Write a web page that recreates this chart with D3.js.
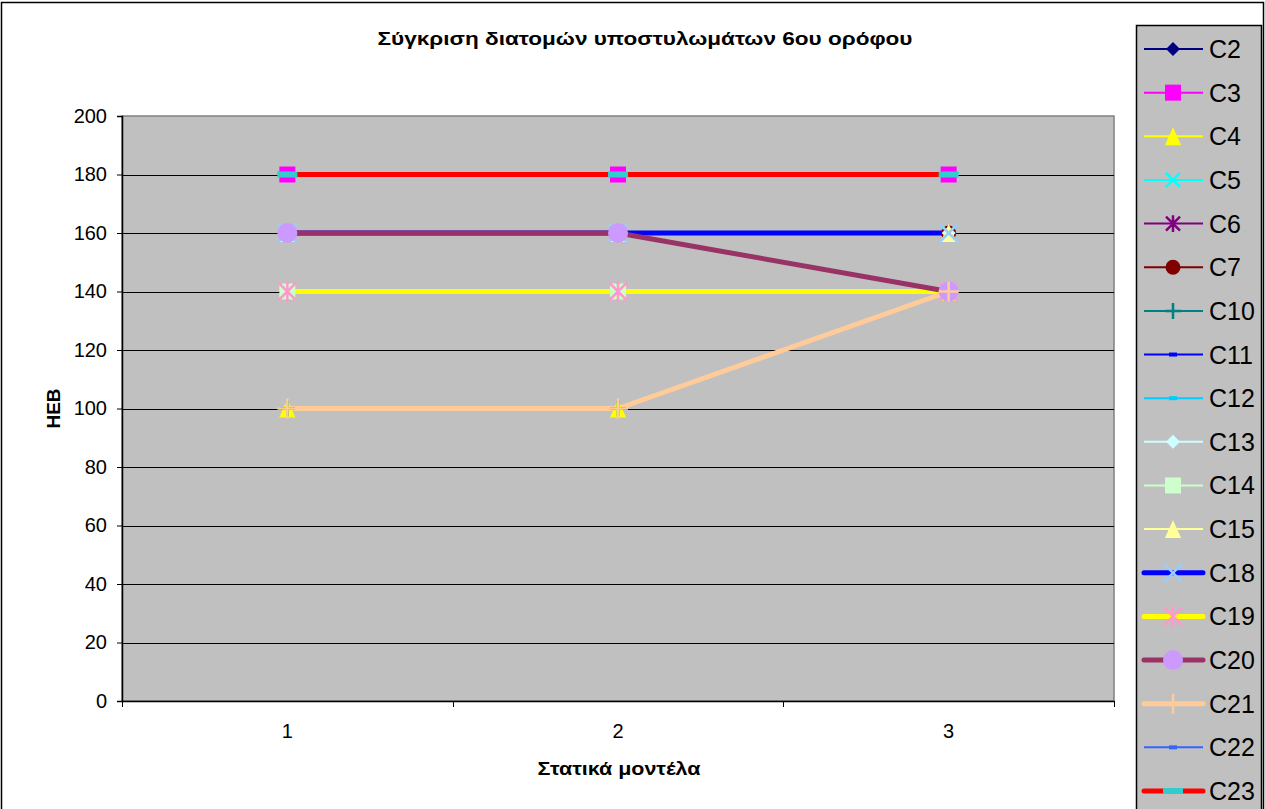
<!DOCTYPE html>
<html>
<head>
<meta charset="utf-8">
<script src="https://cdn.jsdelivr.net/npm/d3@7"></script>
<style>
  html, body { margin: 0; padding: 0; background: #fff; }
  svg { display: block; font-family: Arial, "Liberation Sans", sans-serif; }
</style>
</head>
<body>
<svg id="chart" width="1265" height="809"></svg>
<script>
// ---- data ----
const categories = ["1", "2", "3"];
const yTicks = [0, 20, 40, 60, 80, 100, 120, 140, 160, 180, 200];
const seriesNames = ["C2","C3","C4","C5","C6","C7","C10","C11","C12","C13","C14","C15","C18","C19","C20","C21","C22","C23"];
const valsC2  = [180, 180, 180];
const valsC3  = [180, 180, 180];
const valsC4  = [100, 100, 140];
const valsC5  = [160, 160, 160];
const valsC6  = [140, 140, 140];
const valsC7  = [160, 160, 160];
const valsC10 = [100, 100, 140];
const valsC11 = [180, 180, 180];
const valsC12 = [160, 160, 160];
const valsC13 = [160, 160, 160];
const valsC14 = [140, 140, 140];
const valsC15 = [160, 160, 160];
const valsC18 = [160, 160, 160];
const valsC19 = [140, 140, 140];
const valsC20 = [160, 160, 140];
const valsC21 = [100, 100, 140];
const valsC22 = [180, 180, 180];
const valsC23 = [180, 180, 180];
const seriesValues = [valsC2, valsC3, valsC4, valsC5, valsC6, valsC7, valsC10, valsC11, valsC12,
  valsC13, valsC14, valsC15, valsC18, valsC19, valsC20, valsC21, valsC22, valsC23];

// ---- styles (line colour, line width, marker type, marker colour, marker size) ----
const styles = [
  { line: "#000080", lw: 2, m: "diamond", mc: "#000080", ms: 7 },
  { line: "#FF00FF", lw: 2, m: "square", mc: "#FF00FF", ms: 8 },
  { line: "#FFFF00", lw: 2, m: "triangle", mc: "#FFFF00", ms: 9 },
  { line: "#00FFFF", lw: 2, m: "x", mc: "#00FFFF", ms: 7 },
  { line: "#800080", lw: 2, m: "star", mc: "#800080", ms: 7 },
  { line: "#800000", lw: 2, m: "circle", mc: "#800000", ms: 7.5 },
  { line: "#008080", lw: 2, m: "plus", mc: "#008080", ms: 8 },
  { line: "#0000FF", lw: 2, m: "dash", mc: "#0000FF", ms: 4 },
  { line: "#00CCFF", lw: 2, m: "dash", mc: "#00CCFF", ms: 4 },
  { line: "#CCFFFF", lw: 2, m: "diamond", mc: "#CCFFFF", ms: 7 },
  { line: "#CCFFCC", lw: 2, m: "square", mc: "#CCFFCC", ms: 8 },
  { line: "#FFFF99", lw: 2, m: "triangle", mc: "#FFFF99", ms: 9 },
  { line: "#0000FF", lw: 5, m: "x", mc: "#99CCFF", ms: 9 },
  { line: "#FFFF00", lw: 5, m: "star", mc: "#FF99CC", ms: 9 },
  { line: "#993366", lw: 5, m: "circle", mc: "#CC99FF", ms: 10 },
  { line: "#FFCC99", lw: 5, m: "plus", mc: "#FFCC99", ms: 10 },
  { line: "#3366FF", lw: 2, m: "dash", mc: "#3366FF", ms: 4 },
  { line: "#FF0000", lw: 5, m: "widedash", mc: "#33CCCC", ms: 10 }
];

const series = seriesNames.map((name, i) => ({ name, values: seriesValues[i], ...styles[i] }));

// ---- layout ----
const svg = d3.select("#chart");
const W = 1265, H = 809;
const plot = { left: 122, top: 116, right: 1114, bottom: 701 };
const FONT = "Arial, 'Liberation Sans', sans-serif";

// chart frame
svg.append("rect").attr("x", 1.5).attr("y", 2.5).attr("width", W - 3).attr("height", H + 5)
  .attr("fill", "#fff").attr("stroke", "#000").attr("stroke-width", 1.5);

const x = d3.scaleBand().domain(categories).range([plot.left, plot.right]).padding(0);
const y = d3.scaleLinear().domain([0, 200]).range([plot.bottom, plot.top]);
const cx = c => x(c) + x.bandwidth() / 2;

// plot area
svg.append("rect").attr("x", plot.left).attr("y", plot.top)
  .attr("width", plot.right - plot.left).attr("height", plot.bottom - plot.top)
  .attr("fill", "#C0C0C0").attr("stroke", "#808080").attr("stroke-width", 1.5);

// gridlines
svg.append("g").selectAll("line").data(yTicks.filter(v => v > 0 && v < 200)).join("line")
  .attr("x1", plot.left).attr("x2", plot.right)
  .attr("y1", d => Math.round(y(d)) + 0.5).attr("y2", d => Math.round(y(d)) + 0.5)
  .attr("stroke", "#000").attr("stroke-width", 1);

// y axis
const yAxis = d3.axisLeft(y).tickValues(yTicks).tickSize(5).tickPadding(10);
const gy = svg.append("g").attr("transform", `translate(${plot.left},0)`).call(yAxis);
gy.select(".domain").attr("stroke", "#000").attr("stroke-width", 1.5);
gy.selectAll(".tick line").attr("stroke", "#000");
gy.selectAll("text").attr("font-size", 20).attr("fill", "#000").attr("font-family", FONT);

// x axis
const xAxis = d3.axisBottom(x).tickSize(0).tickPadding(23);
const gx = svg.append("g").attr("transform", `translate(0,${plot.bottom})`).call(xAxis);
gx.select(".domain").attr("stroke", "#000").attr("stroke-width", 1.5);
gx.selectAll("text").attr("font-size", 20).attr("fill", "#000").attr("font-family", FONT);
const boundaries = categories.map(c => x(c)).concat([x(categories[categories.length - 1]) + x.bandwidth()]);
gx.selectAll(".bt").data(boundaries).join("line").attr("class", "bt")
  .attr("x1", d => Math.round(d) + 0.5).attr("x2", d => Math.round(d) + 0.5)
  .attr("y1", 0).attr("y2", 6).attr("stroke", "#000");

// titles
svg.append("text").attr("x", 645).attr("y", 45).attr("text-anchor", "middle")
  .attr("font-size", 19).attr("font-weight", "bold")
  .attr("textLength", 535).attr("lengthAdjust", "spacingAndGlyphs")
  .text("Σύγκριση διατομών υποστυλωμάτων 6ου ορόφου");
svg.append("text").attr("x", 619).attr("y", 775).attr("text-anchor", "middle")
  .attr("font-size", 19).attr("font-weight", "bold")
  .attr("textLength", 163).attr("lengthAdjust", "spacingAndGlyphs")
  .text("Στατικά μοντέλα");
svg.append("text").attr("transform", `translate(60,${(plot.top + plot.bottom) / 2}) rotate(-90)`)
  .attr("text-anchor", "middle").attr("font-size", 19).attr("font-weight", "bold").text("ΗΕΒ");

// ---- marker drawing ----
function drawMarker(g, type, color, s) {
  switch (type) {
    case "diamond":
      g.append("path").attr("d", `M0,${-s}L${s},0L0,${s}L${-s},0Z`).attr("fill", color); break;
    case "square":
      g.append("rect").attr("x", -s).attr("y", -s).attr("width", 2 * s).attr("height", 2 * s).attr("fill", color); break;
    case "triangle":
      g.append("path").attr("d", `M0,${-s}L${s * 0.9},${s}L${-s * 0.9},${s}Z`).attr("fill", color); break;
    case "circle":
      g.append("circle").attr("r", s).attr("fill", color); break;
    case "x":
      g.append("path").attr("d", `M${-s},${-s}L${s},${s}M${-s},${s}L${s},${-s}`)
        .attr("stroke", color).attr("stroke-width", 2.5).attr("fill", "none"); break;
    case "star":
      g.append("path").attr("d", `M${-s},${-s}L${s},${s}M${-s},${s}L${s},${-s}M0,${-s * 1.2}L0,${s * 1.2}`)
        .attr("stroke", color).attr("stroke-width", 2.5).attr("fill", "none"); break;
    case "plus":
      g.append("path").attr("d", `M0,${-s}L0,${s}M${-s},0L${s},0`)
        .attr("stroke", color).attr("stroke-width", 2.5).attr("fill", "none"); break;
    case "dash":
      g.append("rect").attr("x", -s).attr("y", -2).attr("width", 2 * s).attr("height", 4).attr("fill", color); break;
    case "widedash":
      g.append("rect").attr("x", -s).attr("y", -3).attr("width", 2 * s).attr("height", 6).attr("fill", color); break;
  }
}

// lines first (all series), then markers
const line = d3.line().x((d, i) => cx(categories[i])).y(d => y(d));
const linesG = svg.append("g");
series.forEach(s => {
  linesG.append("path").attr("d", line(s.values)).attr("fill", "none")
    .attr("stroke", s.line).attr("stroke-width", s.lw).attr("stroke-linejoin", "round");
});
const markersG = svg.append("g");
series.forEach(s => {
  s.values.forEach((v, i) => {
    const g = markersG.append("g").attr("transform", `translate(${cx(categories[i])},${y(v)})`);
    drawMarker(g, s.m, s.mc, s.ms);
  });
});

// ---- legend ----
const legend = svg.append("g");
legend.append("rect").attr("x", 1136.5).attr("y", 25.5).attr("width", 125).attr("height", 800)
  .attr("fill", "#C0C0C0").attr("stroke", "#000").attr("stroke-width", 1.5);
const ly = d3.scalePoint().domain(seriesNames).range([49, 791]);
series.forEach(s => {
  const g = legend.append("g").attr("transform", `translate(0,${ly(s.name)})`);
  g.append("line").attr("x1", 1144).attr("x2", 1203).attr("y1", 0).attr("y2", 0)
    .attr("stroke", s.line).attr("stroke-width", s.lw).attr("stroke-linecap", s.lw > 2 ? "round" : "butt");
  const mg = g.append("g").attr("transform", "translate(1173,0)");
  drawMarker(mg, s.m, s.mc, s.ms);
  g.append("text").attr("x", 1209).attr("y", 9).attr("font-size", 25).attr("fill", "#000")
    .attr("font-family", FONT).text(s.name);
});
</script>
</body>
</html>
